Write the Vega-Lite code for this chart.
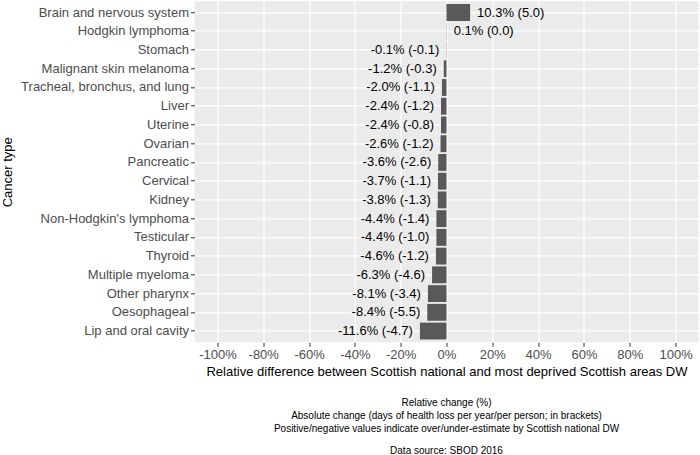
{
  "$schema": "https://vega.github.io/schema/vega-lite/v6.json",
  "width": 504,
  "height": 341,
  "autosize": {"type": "none"},
  "padding": {"left": 194.5, "top": 1.3, "right": 1.5, "bottom": 112.7},
  "background": "white",
  "config": {
    "view": {"fill": "#EBEBEB", "stroke": null},
    "font": "Liberation Sans",
    "text": {"font": "Liberation Sans"}
  },
  "title": {
    "text": [
      "Relative change (%)",
      "Absolute change (days of health loss per year/per person; in brackets)",
      "Positive/negative values indicate over/under-estimate by Scottish national DW"
    ],
    "subtitle": "Data source: SBOD 2016",
    "orient": "bottom",
    "anchor": "middle",
    "frame": "group",
    "font": "Liberation Sans",
    "fontSize": 10,
    "fontWeight": "normal",
    "color": "black",
    "lineHeight": 13,
    "subtitleFont": "Liberation Sans",
    "subtitleFontSize": 10,
    "subtitleColor": "black",
    "subtitlePadding": 11.5,
    "offset": 20
  },
  "data": {
    "values": [
      {"cancer": "Brain and nervous system", "rel": 10.3, "abs": 5.0},
      {"cancer": "Hodgkin lymphoma", "rel": 0.1, "abs": 0.0},
      {"cancer": "Stomach", "rel": -0.1, "abs": -0.1},
      {"cancer": "Malignant skin melanoma", "rel": -1.2, "abs": -0.3},
      {"cancer": "Tracheal, bronchus, and lung", "rel": -2.0, "abs": -1.1},
      {"cancer": "Liver", "rel": -2.4, "abs": -1.2},
      {"cancer": "Uterine", "rel": -2.4, "abs": -0.8},
      {"cancer": "Ovarian", "rel": -2.6, "abs": -1.2},
      {"cancer": "Pancreatic", "rel": -3.6, "abs": -2.6},
      {"cancer": "Cervical", "rel": -3.7, "abs": -1.1},
      {"cancer": "Kidney", "rel": -3.8, "abs": -1.3},
      {"cancer": "Non-Hodgkin's lymphoma", "rel": -4.4, "abs": -1.4},
      {"cancer": "Testicular", "rel": -4.4, "abs": -1.0},
      {"cancer": "Thyroid", "rel": -4.6, "abs": -1.2},
      {"cancer": "Multiple myeloma", "rel": -6.3, "abs": -4.6},
      {"cancer": "Other pharynx", "rel": -8.1, "abs": -3.4},
      {"cancer": "Oesophageal", "rel": -8.4, "abs": -5.5},
      {"cancer": "Lip and oral cavity", "rel": -11.6, "abs": -4.7}
    ]
  },
  "encoding": {
    "y": {
      "field": "cancer",
      "type": "nominal",
      "sort": null,
      "scale": {"paddingInner": 0.1, "paddingOuter": 0.15},
      "axis": {
        "title": "Cancer type",
        "titleFont": "Liberation Sans",
        "titleFontSize": 13,
        "titleFontWeight": "normal",
        "titleColor": "black",
        "titlePadding": 6,
        "labelFont": "Liberation Sans",
        "labelFontSize": 13,
        "labelColor": "#4D4D4D",
        "labelPadding": 2,
        "domain": false,
        "ticks": true,
        "tickColor": "#333333",
        "tickSize": 4,
        "tickWidth": 1,
        "bandPosition": 0.5,
        "grid": true,
        "gridColor": "white",
        "gridWidth": 1.2
      }
    }
  },
  "layer": [
    {
      "mark": {"type": "bar", "color": "#595959"},
      "encoding": {
        "x": {
          "field": "rel",
          "type": "quantitative",
          "scale": {"domain": [-110, 110], "nice": false, "zero": false},
          "axis": {
            "values": [-100, -90, -80, -70, -60, -50, -40, -30, -20, -10, 0, 10, 20, 30, 40, 50, 60, 70, 80, 90, 100],
            "labelExpr": "datum.value % 20 === 0 ? datum.value + '%' : ''",
            "title": "Relative difference between Scottish national and most deprived Scottish areas DW",
            "titleFont": "Liberation Sans",
            "titleFontSize": 13,
            "titleFontWeight": "normal",
            "titleColor": "black",
            "titlePadding": 4,
            "labelFont": "Liberation Sans",
            "labelFontSize": 13,
            "labelColor": "#4D4D4D",
            "labelPadding": 2,
            "labelFlush": false,
            "labelOverlap": false,
            "domain": false,
            "tickColor": "#333333",
            "tickSize": 4,
            "tickWidth": 1,
            "tickOpacity": {"condition": {"test": "datum.value % 20 === 0", "value": 1}, "value": 0},
            "grid": true,
            "gridColor": "white",
            "gridWidth": {"condition": {"test": "datum.value % 20 === 0", "value": 1.2}, "value": 0.6}
          }
        }
      }
    },
    {
      "mark": {
        "type": "text",
        "font": "Liberation Sans",
        "fontSize": 13,
        "color": "black",
        "baseline": "middle",
        "align": {"expr": "datum.rel >= 0 ? 'left' : 'right'"},
        "dx": {"expr": "datum.rel >= 0 ? 7 : -7"},
        "text": {"expr": "replace(format(datum.rel, '.1f') + '% (' + format(datum.abs, '.1f') + ')', /\u2212/g, '-')"}
      },
      "encoding": {
        "x": {"field": "rel", "type": "quantitative"}
      }
    }
  ]
}
